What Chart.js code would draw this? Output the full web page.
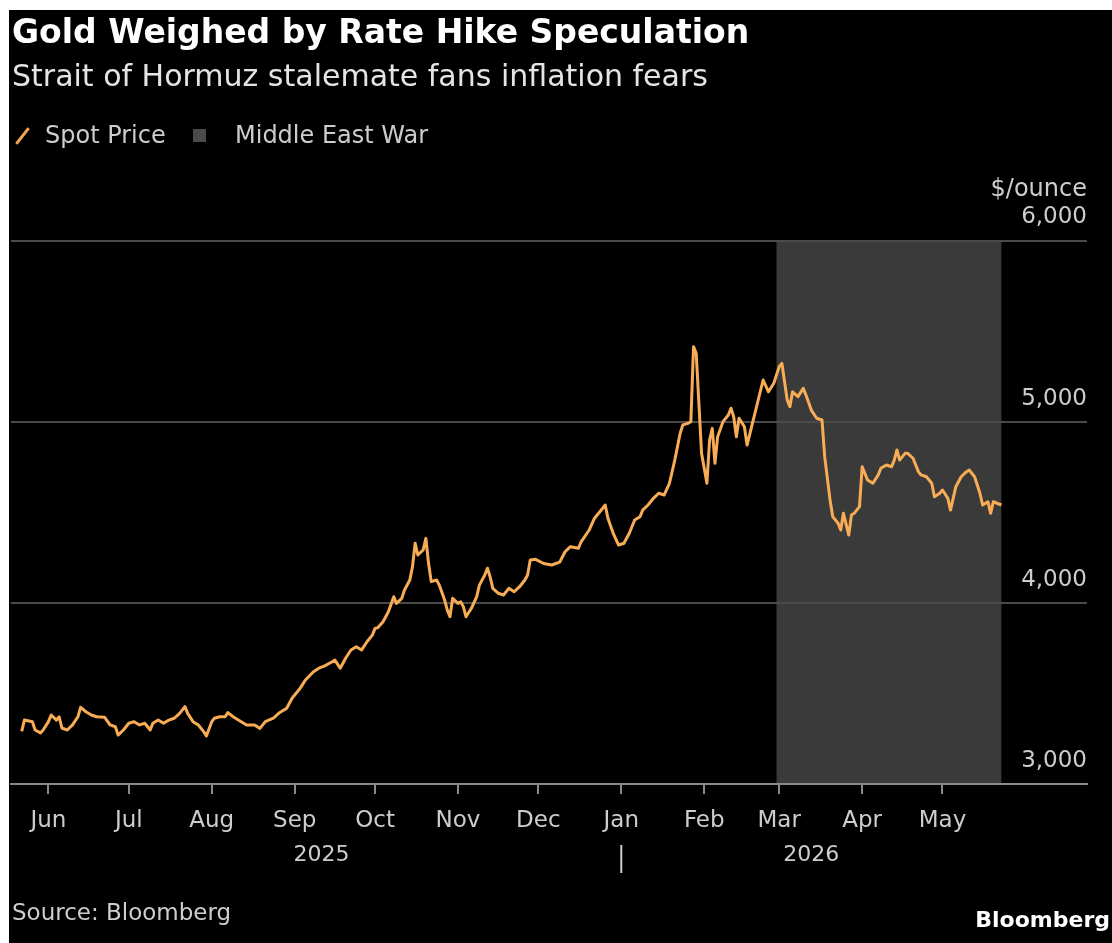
<!DOCTYPE html>
<html>
<head>
<meta charset="utf-8">
<title>Gold Weighed by Rate Hike Speculation</title>
<script src="https://cdn.jsdelivr.net/npm/chart.js@4.4.1/dist/chart.umd.min.js"></script>
<style>
  html, body { margin: 0; padding: 0; background: #fff; }
  body { width: 1112px; height: 943px; overflow: hidden; position: relative; font-family: "DejaVu Sans", sans-serif; }
  #card { position: absolute; left: 9px; top: 10px; width: 1103px; height: 933px; background: #000; }
  #card canvas { position: absolute; left: 0; top: 0; }
  .txt { position: absolute; white-space: nowrap; }
  #title { left: 3px; top: 2px; font-size: 33px; line-height: 40px; font-weight: bold; color: #fff; }
  #subtitle { left: 3px; top: 48px; font-size: 30px; line-height: 36px; color: #e4e4e4; }
  .legend-text { top: 110px; font-size: 24px; line-height: 30px; color: #cdcdcd; }
  #legend-slash { position: absolute; left: 12px; top: 116px; width: 3px; height: 20px; background: #f6a84f; transform: rotate(38deg); }
  #legend-box { position: absolute; left: 184px; top: 119px; width: 13px; height: 13px; background: #4a4a4a; }
  #unit { right: 25px; top: 163px; font-size: 24px; line-height: 30px; color: #cdcdcd; }
  #source { left: 3px; top: 888px; font-size: 23px; line-height: 28px; color: #cdcdcd; }
  #brand { right: 2px; top: 896px; font-size: 22px; line-height: 28px; font-weight: bold; color: #fff; }
</style>
</head>
<body>
<div id="card">
  <canvas id="chart" width="1103" height="933"></canvas>
  <div class="txt" id="title">Gold Weighed by Rate Hike Speculation</div>
  <div class="txt" id="subtitle">Strait of Hormuz stalemate fans inflation fears</div>
  <span id="legend-slash"></span>
  <div class="txt legend-text" style="left:36px">Spot Price</div>
  <span id="legend-box"></span>
  <div class="txt legend-text" style="left:226px">Middle East War</div>
  <div class="txt" id="unit">$/ounce</div>
  <div class="txt" id="source">Source: Bloomberg</div>
  <div class="txt" id="brand">Bloomberg</div>
</div>
<script>
'use strict';

// Gold spot price, $/ounce
const spotDates = [
  '2025-05-22','2025-05-23','2025-05-26','2025-05-27','2025-05-29','2025-05-30',
  '2025-06-01','2025-06-02','2025-06-04','2025-06-05','2025-06-06','2025-06-08','2025-06-10','2025-06-12','2025-06-13',
  '2025-06-15','2025-06-17','2025-06-19','2025-06-22','2025-06-24','2025-06-26','2025-06-27','2025-06-29',
  '2025-07-01','2025-07-03','2025-07-05','2025-07-07','2025-07-09','2025-07-10','2025-07-12','2025-07-14','2025-07-16',
  '2025-07-18','2025-07-20','2025-07-22','2025-07-23','2025-07-25','2025-07-27','2025-07-29','2025-07-30',
  '2025-08-01','2025-08-02','2025-08-04','2025-08-06','2025-08-07','2025-08-09','2025-08-12','2025-08-14',
  '2025-08-17','2025-08-19','2025-08-21','2025-08-24','2025-08-26','2025-08-29','2025-08-31',
  '2025-09-03','2025-09-05','2025-09-08','2025-09-10','2025-09-12','2025-09-15','2025-09-16','2025-09-18',
  '2025-09-20','2025-09-22','2025-09-24','2025-09-26','2025-09-28','2025-09-30',
  '2025-10-01','2025-10-02','2025-10-04','2025-10-06','2025-10-08','2025-10-09','2025-10-11','2025-10-12','2025-10-14',
  '2025-10-15','2025-10-16','2025-10-17','2025-10-19','2025-10-20','2025-10-21','2025-10-22','2025-10-24','2025-10-25',
  '2025-10-27','2025-10-28','2025-10-29','2025-10-30',
  '2025-11-01','2025-11-02','2025-11-03','2025-11-04','2025-11-06','2025-11-08','2025-11-09','2025-11-11','2025-11-12',
  '2025-11-13','2025-11-14','2025-11-16','2025-11-18','2025-11-20','2025-11-22','2025-11-24','2025-11-26','2025-11-27',
  '2025-11-28','2025-11-30',
  '2025-12-03','2025-12-06','2025-12-09','2025-12-11','2025-12-13','2025-12-16','2025-12-17','2025-12-20','2025-12-22',
  '2025-12-24','2025-12-26','2025-12-27','2025-12-29','2025-12-31',
  '2026-01-02','2026-01-04','2026-01-06','2026-01-08','2026-01-09','2026-01-11','2026-01-13','2026-01-15','2026-01-17',
  '2026-01-19','2026-01-21','2026-01-23','2026-01-24','2026-01-26','2026-01-27','2026-01-28','2026-01-29','2026-01-30',
  '2026-01-31',
  '2026-02-02','2026-02-03','2026-02-04','2026-02-05','2026-02-06','2026-02-08','2026-02-10','2026-02-11','2026-02-12',
  '2026-02-13','2026-02-14','2026-02-16','2026-02-17','2026-02-19','2026-02-21','2026-02-23','2026-02-25','2026-02-27',
  '2026-03-01','2026-03-02','2026-03-04','2026-03-05','2026-03-06','2026-03-08','2026-03-10','2026-03-11','2026-03-13',
  '2026-03-15','2026-03-17','2026-03-18','2026-03-20','2026-03-21','2026-03-23','2026-03-24','2026-03-25','2026-03-27',
  '2026-03-28','2026-03-29','2026-03-31',
  '2026-04-01','2026-04-03','2026-04-05','2026-04-07','2026-04-08','2026-04-10','2026-04-12','2026-04-13','2026-04-14',
  '2026-04-15','2026-04-17','2026-04-18','2026-04-20','2026-04-22','2026-04-23','2026-04-25','2026-04-27','2026-04-28',
  '2026-04-30',
  '2026-05-01','2026-05-03','2026-05-04','2026-05-06','2026-05-08','2026-05-10','2026-05-11','2026-05-13','2026-05-15',
  '2026-05-16','2026-05-18','2026-05-19','2026-05-20','2026-05-23'
];

const spotPrices = [
  3290, 3353, 3344, 3298, 3282, 3298,
  3344, 3381, 3353, 3371, 3309, 3298, 3326, 3371, 3423,
  3399, 3381, 3371, 3368, 3326, 3316, 3270, 3298,
  3335, 3344, 3326, 3335, 3298, 3335, 3353, 3335, 3353,
  3363, 3390, 3427, 3390, 3344, 3326, 3289, 3265,
  3344, 3363, 3371, 3371, 3394, 3371, 3344, 3326,
  3326, 3307, 3344, 3363, 3390, 3418, 3473,
  3528, 3574, 3620, 3639, 3651, 3675, 3684, 3639,
  3694, 3740, 3758, 3740, 3785, 3822,
  3859, 3862, 3896, 3951, 4034, 3997, 4025, 4071, 4126,
  4200, 4329, 4264, 4292, 4356, 4218, 4117, 4126, 4098,
  4016, 3960, 3923, 4025,
  3997, 4006, 3979, 3923, 3970, 4034, 4098, 4154, 4191,
  4144, 4080, 4053, 4043, 4080, 4061, 4089, 4126, 4154,
  4236, 4240,
  4217, 4209, 4225, 4282, 4310, 4301, 4337, 4402, 4467,
  4503, 4540, 4467, 4384, 4319,
  4329, 4384, 4457, 4475, 4512, 4540, 4577, 4605, 4595,
  4660, 4788, 4936, 4982, 4991, 5000, 5414, 5377, 5101,
  4825,
  4660, 4899, 4963, 4770, 4917, 5000, 5037, 5074, 5027,
  4917, 5019, 4972, 4871, 4991, 5110, 5230, 5165, 5212,
  5304, 5322, 5120, 5083, 5165, 5138, 5184, 5147, 5064,
  5019, 5009, 4807, 4568, 4476, 4439, 4402, 4494, 4374,
  4485, 4494, 4531,
  4751, 4678, 4660, 4706, 4743, 4761, 4751, 4788, 4844,
  4788, 4825, 4825, 4798, 4724, 4706, 4696, 4660, 4586,
  4605,
  4623, 4577, 4512, 4641, 4696, 4724, 4733, 4696, 4605,
  4540, 4558, 4494, 4558, 4540
];

// Axis ticks and labels
const monthTicks = ['2025-06-01','2025-07-01','2025-08-01','2025-09-01','2025-10-01','2025-11-01',
                    '2025-12-01','2026-01-01','2026-02-01','2026-03-01','2026-04-01','2026-05-01'];
const monthLabels = ['Jun','Jul','Aug','Sep','Oct','Nov','Dec','Jan','Feb','Mar','Apr','May'];
const yearLabels = ['2025', '2026'];
const yearBreak = '2026-01-01';
const priceTicks = [3000, 4000, 5000, 6000];
const axisRange = ['2025-05-18', '2026-06-24'];

// Middle East War period
const warPeriod = ['2026-02-28', '2026-05-23'];

const LINE_COLOR = '#f8ac55';
const SHADE_COLOR = '#3a3a3a';
const LABEL_COLOR = '#cdcdcd';
const FONT = '"DejaVu Sans", sans-serif';

/** Days since epoch for an ISO date string. */
const dayNum = s => Date.UTC(+s.slice(0, 4), +s.slice(5, 7) - 1, +s.slice(8, 10)) / 864e5;

/** Grey band behind the war months, drawn before the grid. */
const warShade = {
  id: 'warShade',
  beforeDraw(chart) {
    const {ctx, chartArea, scales: {x}} = chart;
    const x0 = x.getPixelForValue(dayNum(warPeriod[0]));
    const x1 = x.getPixelForValue(dayNum(warPeriod[1]));
    ctx.save();
    ctx.fillStyle = SHADE_COLOR;
    ctx.fillRect(x0, chartArea.top, x1 - x0, chartArea.bottom - chartArea.top);
    ctx.restore();
  }
};

/** Year row under the month labels, with a divider at the turn of the year. */
const yearRow = {
  id: 'yearRow',
  afterDraw(chart) {
    const {ctx, scales: {x}} = chart;
    const first = x.getPixelForValue(dayNum(spotDates[0]));
    const last = x.getPixelForValue(dayNum(spotDates[spotDates.length - 1]));
    const brk = x.getPixelForValue(dayNum(yearBreak));
    const y = x.bottom + 11;
    ctx.save();
    ctx.fillStyle = LABEL_COLOR;
    ctx.font = `22px ${FONT}`;
    ctx.textAlign = 'center';
    ctx.textBaseline = 'middle';
    ctx.fillText(yearLabels[0], (first + brk) / 2, y);
    ctx.fillText(yearLabels[1], (brk + last) / 2, y);
    ctx.strokeStyle = LABEL_COLOR;
    ctx.lineWidth = 2;
    ctx.beginPath();
    ctx.moveTo(brk, y - 10);
    ctx.lineTo(brk, y + 18);
    ctx.stroke();
    ctx.restore();
  }
};

const points = spotDates.map((d, i) => ({x: dayNum(d), y: spotPrices[i]}));

new Chart(document.getElementById('chart'), {
  type: 'line',
  data: {
    datasets: [{
      label: 'Spot Price',
      data: points,
      borderColor: LINE_COLOR,
      borderWidth: 3,
      borderJoinStyle: 'round',
      pointRadius: 0,
      tension: 0,
      fill: false
    }]
  },
  options: {
    responsive: false,
    animation: false,
    devicePixelRatio: 1,
    layout: {padding: {left: 2, right: 25, top: 230.5, bottom: 99}},
    plugins: {legend: {display: false}, tooltip: {enabled: false}},
    scales: {
      x: {
        type: 'linear',
        min: dayNum(axisRange[0]),
        max: dayNum(axisRange[1]),
        afterBuildTicks: s => { s.ticks = monthTicks.map(d => ({value: dayNum(d)})); },
        afterFit: s => { s.height = 60; },
        ticks: {
          callback: (v, i) => monthLabels[i],
          autoSkip: false,
          maxRotation: 0,
          padding: 13,
          color: LABEL_COLOR,
          font: {family: FONT, size: 23}
        },
        grid: {drawOnChartArea: false, tickLength: 10, color: '#8a8a8a', lineWidth: 2},
        border: {display: true, color: '#8a8a8a', width: 2}
      },
      y: {
        position: 'right',
        min: priceTicks[0],
        max: priceTicks[priceTicks.length - 1],
        afterBuildTicks: s => { s.ticks = priceTicks.map(v => ({value: v})); },
        afterFit: s => { s.width = 0; },
        ticks: {
          mirror: true,
          padding: 0,
          labelOffset: -23,
          color: LABEL_COLOR,
          font: {family: FONT, size: 23},
          callback: v => v.toLocaleString('en-US')
        },
        grid: {
          drawTicks: false,
          lineWidth: 2,
          color: c => c.tick && c.tick.value === priceTicks[0] ? 'rgba(0,0,0,0)' : '#4a4a4a'
        },
        border: {display: false}
      }
    }
  },
  plugins: [warShade, yearRow]
});
</script>
</body>
</html>
